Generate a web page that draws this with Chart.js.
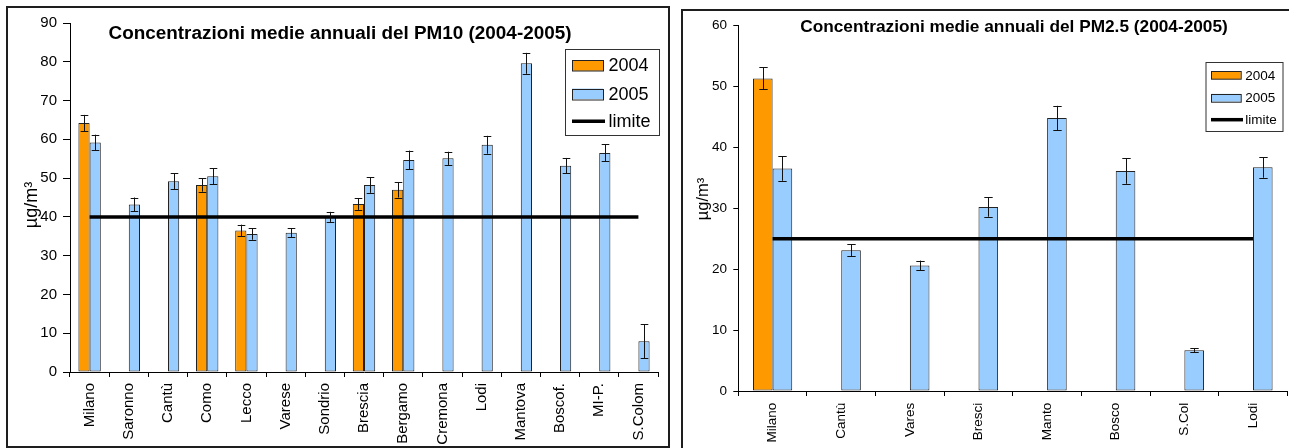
<!DOCTYPE html>
<html>
<head>
<meta charset="utf-8">
<script src="https://cdn.jsdelivr.net/npm/chart.js@4.4.1/dist/chart.umd.min.js"></script>
<style>
  html, body { margin: 0; padding: 0; background: #fff; overflow: hidden; width: 1289px; height: 448px; }
  .panel { position: absolute; box-sizing: border-box; border: 2px solid #1e1e1e; background: #fff; }
  #p10 { left: 6px; top: 6px; width: 664px; height: 442px; }
  #p25 { left: 681px; top: 9px; width: 665px; height: 442px; }
  canvas { display: block; }
</style>
</head>
<body>
<div class="panel" id="p10"><canvas id="c10" width="660" height="438"></canvas></div>
<div class="panel" id="p25"><canvas id="c25" width="661" height="438"></canvas></div>
<script>
// ---- PM10 annual means (µg/m³) ----
const pm10Stations = ['Milano', 'Saronno', 'Cantù', 'Como', 'Lecco', 'Varese', 'Sondrio', 'Brescia',
                      'Bergamo', 'Cremona', 'Lodi', 'Mantova', 'Boscof.', 'MI-P.', 'S.Colom'];
const pm10Year2004 = [64.2, null, null, 48.2, 36.5, null, null, 43.3, 47.0, null, null, null, null, null, null];
const pm10Year2005 = [59.2, 43.2, 49.2, 50.5, 35.6, 35.9, 40.0, 48.2, 54.7, 55.1, 58.6, 79.6, 53.2, 56.5, 7.9];
const pm10Err2004  = [2.1, null, null, 1.7, 1.5, null, null, 1.5, 2.0, null, null, null, null, null, null];
const pm10Err2005  = [2.0, 1.8, 2.0, 2.1, 1.5, 1.2, 1.3, 2.0, 2.4, 1.7, 2.3, 2.7, 2.0, 2.2, 4.4];
const pm10Limit = 40;
const pm10Ticks = [0, 10, 20, 30, 40, 50, 60, 70, 80, 90];

// ---- PM2.5 annual means (µg/m³) ----
const pm25Stations = ['Milano', 'Cantù', 'Vares', 'Bresci', 'Manto', 'Bosco', 'S.Col', 'Lodi'];
const pm25Year2004 = [51.3, null, null, null, null, null, null, null];
const pm25Year2005 = [36.5, 23.1, 20.6, 30.2, 44.8, 36.1, 6.7, 36.7];
const pm25Err2004  = [1.8, null, null, null, null, null, null, null];
const pm25Err2005  = [2.0, 1.0, 0.8, 1.6, 2.0, 2.1, 0.35, 1.7];
const pm25Limit = 25;
const pm25Ticks = [0, 10, 20, 30, 40, 50, 60];

const seriesLabels = ['2004', '2005', 'limite'];
const FONT = '"Liberation Sans", Arial, Helvetica, sans-serif';
const ORANGE = '#FF9900';
const BLUE = '#99CCFF';

// Error bars drawn from each bar's centre through the y scale
const errorBars = {
  id: 'errorBars',
  afterDatasetsDraw(chart, args, opts) {
    const ctx = chart.ctx;
    const y = chart.scales.y;
    chart.data.datasets.forEach((ds, di) => {
      if (!ds.errors) return;
      const meta = chart.getDatasetMeta(di);
      meta.data.forEach((bar, i) => {
        const v = ds.data[i], e = ds.errors[i];
        if (v == null || e == null) return;
        const top = y.getPixelForValue(v + e);
        const bot = y.getPixelForValue(v - e);
        const x = Math.round(bar.x) + 0.5;
        const w = opts.cap;
        ctx.save();
        ctx.strokeStyle = '#111';
        ctx.lineWidth = 1;
        ctx.beginPath();
        ctx.moveTo(x, top); ctx.lineTo(x, bot);
        ctx.moveTo(x - w, Math.round(top) + 0.5); ctx.lineTo(x + w, Math.round(top) + 0.5);
        ctx.moveTo(x - w, Math.round(bot) + 0.5); ctx.lineTo(x + w, Math.round(bot) + 0.5);
        ctx.stroke();
        ctx.restore();
      });
    });
  }
};

// Chart title, rotated y-axis title and boxed legend
const panelDecor = {
  id: 'panelDecor',
  afterDraw(chart, args, o) {
    const ctx = chart.ctx;
    ctx.save();
    ctx.fillStyle = '#000';
    ctx.textAlign = 'center';
    ctx.textBaseline = 'middle';
    ctx.font = `bold ${o.titleSize}px ${FONT}`;
    ctx.fillText(o.title, o.titleX, o.titleY);

    ctx.save();
    ctx.translate(o.yTitleX, o.yTitleY);
    ctx.rotate(-Math.PI / 2);
    ctx.font = `${o.yTitleSize}px ${FONT}`;
    ctx.fillText(o.yTitle, 0, 0);
    ctx.restore();

    const L = o.legend;
    ctx.fillStyle = '#fff';
    ctx.fillRect(L.x, L.y, L.w, L.h);
    ctx.strokeStyle = '#333';
    ctx.lineWidth = 1;
    ctx.strokeRect(L.x + 0.5, L.y + 0.5, L.w, L.h);
    ctx.textAlign = 'left';
    ctx.font = `${L.font}px ${FONT}`;
    chart.data.datasets.forEach((ds, i) => {
      const cy = L.rows[i];
      if (ds.type === 'line') {
        ctx.strokeStyle = ds.borderColor;
        ctx.lineWidth = ds.borderWidth;
        ctx.beginPath();
        ctx.moveTo(L.sx, cy);
        ctx.lineTo(L.lx2, cy);
        ctx.stroke();
      } else {
        ctx.fillStyle = ds.backgroundColor;
        ctx.fillRect(L.sx, cy - L.sh / 2, L.sw, L.sh);
        ctx.strokeStyle = '#222';
        ctx.lineWidth = 1;
        ctx.strokeRect(Math.round(L.sx) + 0.5, Math.round(cy - L.sh / 2) + 0.5, L.sw, L.sh);
      }
      ctx.fillStyle = '#000';
      ctx.fillText(ds.label, L.tx, cy + 1);
    });
    ctx.restore();
  }
};

function makeChart(canvasId, stations, y2004, y2005, e2004, e2005, limit, ticks, p) {
  const tickValues = ticks;
  return new Chart(document.getElementById(canvasId), {
    type: 'bar',
    data: {
      labels: stations,
      datasets: [
        { label: seriesLabels[0], data: y2004, errors: e2004, backgroundColor: ORANGE,
          borderColor: '#222', borderWidth: 1, borderSkipped: false, order: 1 },
        { label: seriesLabels[1], data: y2005, errors: e2005, backgroundColor: BLUE,
          borderColor: '#222', borderWidth: 1, borderSkipped: false, order: 1 },
        { type: 'line', label: seriesLabels[2], data: stations.map(() => limit),
          borderColor: '#000', borderWidth: p.lineWidth, pointRadius: 0, fill: false, order: 0 }
      ]
    },
    options: {
      responsive: false,
      animation: false,
      events: [],
      layout: { padding: { left: 0, top: p.padTop, right: p.padRight, bottom: 0 } },
      datasets: { bar: { categoryPercentage: 2 / 3.5, barPercentage: 1 } },
      scales: {
        x: {
          offset: true,
          grid: { offset: true, drawOnChartArea: false, drawTicks: true, tickLength: 5, color: '#000' },
          border: { color: '#000', width: 1 },
          ticks: { autoSkip: false, minRotation: 90, maxRotation: 90, padding: p.xPad,
                   color: '#000', font: { family: FONT, size: p.xFont } },
          afterFit: s => { s.height = p.xHeight; }
        },
        y: {
          min: tickValues[0], max: tickValues[tickValues.length - 1],
          afterBuildTicks: s => { s.ticks = tickValues.map(v => ({ value: v })); },
          grid: { drawOnChartArea: false, drawTicks: true, tickLength: p.yTick, color: '#000' },
          border: { color: '#000', width: 1 },
          ticks: { padding: p.yPad, color: '#000', font: { family: FONT, size: p.yFont } },
          afterFit: s => { s.width = p.yWidth; }
        }
      },
      plugins: {
        legend: { display: false },
        tooltip: { enabled: false },
        errorBars: { cap: p.cap },
        panelDecor: p.decor
      }
    },
    plugins: [errorBars, panelDecor]
  });
}

makeChart('c10', pm10Stations, pm10Year2004, pm10Year2005, pm10Err2004, pm10Err2005, pm10Limit, pm10Ticks, {
  padTop: 13, padRight: 10, xHeight: 74, yWidth: 62, xPad: 6, yTick: 7, yPad: 6,
  xFont: 15, yFont: 15, cap: 3.8, lineWidth: 3.5,
  decor: {
    title: 'Concentrazioni medie annuali del PM10 (2004-2005)', titleSize: 18.9, titleX: 332, titleY: 26,
    yTitle: 'µg/m³', yTitleSize: 18, yTitleX: 24, yTitleY: 197,
    legend: { x: 557, y: 41, w: 94, h: 86, sx: 564, sw: 31, sh: 10.5, lx2: 597, tx: 600.5,
              rows: [57.5, 85.8, 113.3], font: 18 }
  }
});

makeChart('c25', pm25Stations, pm25Year2004, pm25Year2005, pm25Err2004, pm25Err2005, pm25Limit, pm25Ticks, {
  padTop: 11.7, padRight: 56.7, xHeight: 58, yWidth: 55.3, xPad: 6.7, yTick: 5, yPad: 6.3,
  xFont: 13.5, yFont: 13.5, cap: 4.2, lineWidth: 3.5,
  decor: {
    title: 'Concentrazioni medie annuali del PM2.5 (2004-2005)', titleSize: 17.25, titleX: 331, titleY: 16,
    yTitle: 'µg/m³', yTitleSize: 16.5, yTitleX: 20, yTitleY: 188,
    legend: { x: 522.5, y: 51, w: 77, h: 69, sx: 528, sw: 29.7, sh: 7.7, lx2: 560, tx: 562.3,
              rows: [64.2, 86.7, 108.7], font: 13.5 }
  }
});
</script>
</body>
</html>
